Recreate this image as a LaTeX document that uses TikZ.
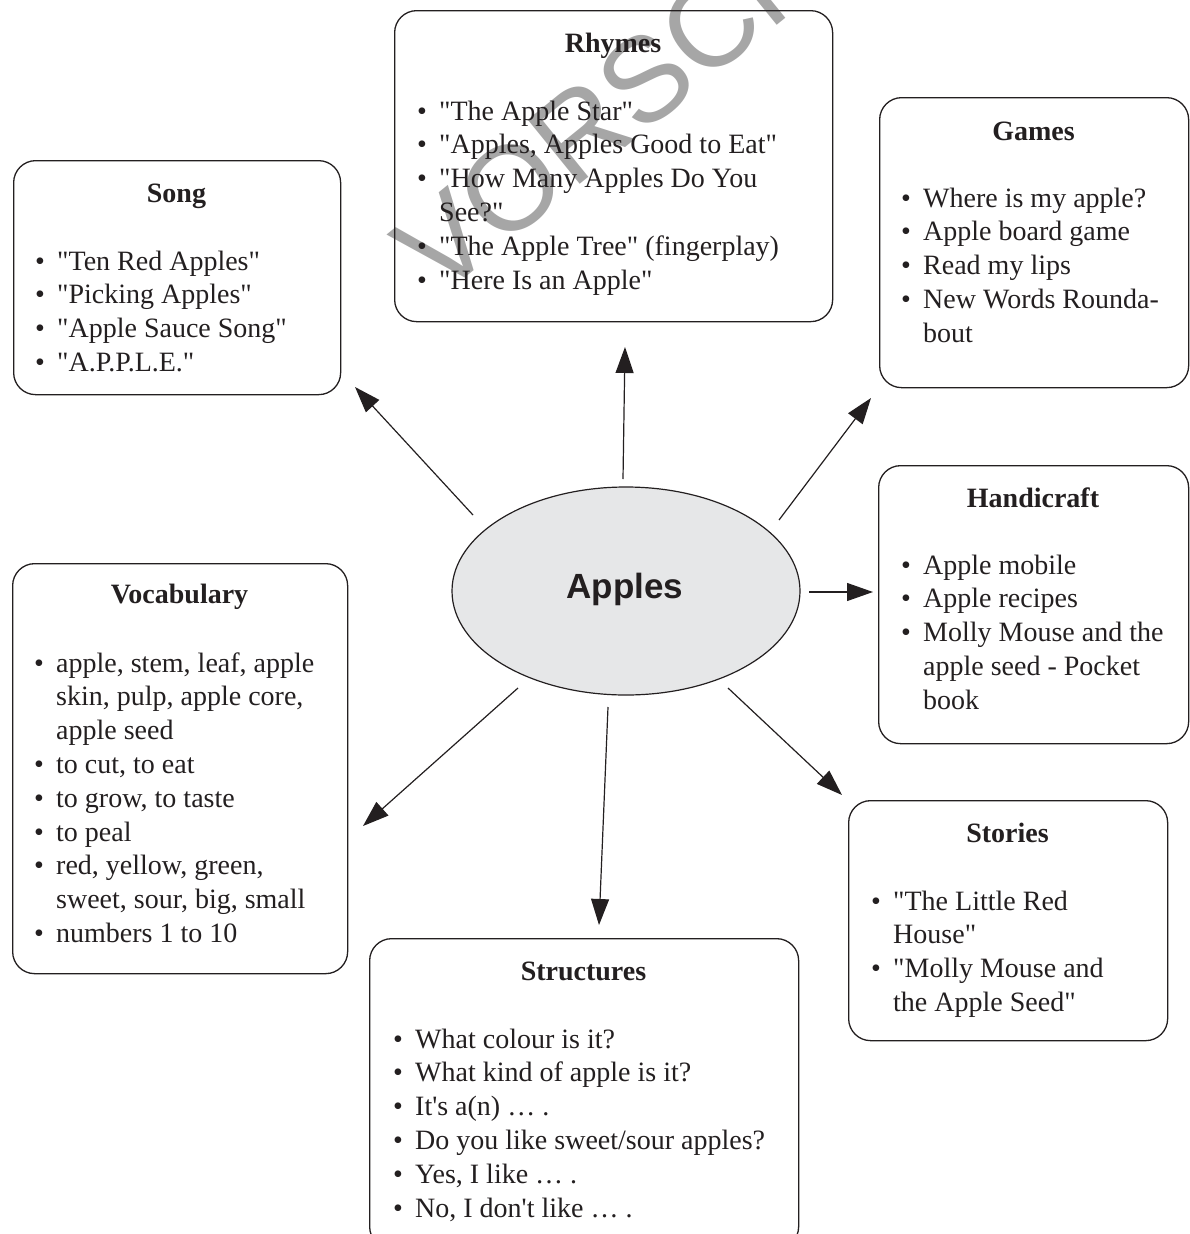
\documentclass[tikz,border=0pt]{standalone}
\usepackage{fontspec}
\setmainfont{Liberation Serif}
\newfontfamily\plainserif{Liberation Serif}
\newfontfamily\headsans{Liberation Sans}
\usetikzlibrary{shapes.geometric,arrows.meta}
\definecolor{txt}{HTML}{231F20}
\definecolor{ovalfill}{HTML}{E6E7E8}
\newcommand\itm[1]{\hbox{\makebox[22pt][l]{•}#1}}
\newcommand\cnt[1]{\hbox{\hspace*{22pt}#1}}
\newcommand\lst[1]{\vtop{#1}}
\tikzset{
  box/.style={draw=txt, line width=1.3pt, rounded corners=22pt, anchor=north west, inner sep=0pt},
  ttl/.style={anchor=base, inner sep=0pt, font=\plainserif\fontsize{28}{34}\selectfont\bfseries, text=txt},
  lstn/.style={anchor=base west, inner sep=0pt, font=\plainserif\fontsize{28}{33.8}\selectfont, text=txt},
  arr/.style={-{Triangle[length=26pt,width=18pt]}, line width=1.2pt, draw=txt},
  oval/.style={ellipse, draw=txt, line width=1.2pt, fill=ovalfill, minimum width=348pt, minimum height=208pt, inner sep=0pt},
}
\begin{document}
\begin{tikzpicture}[x=1pt,y=-1pt]
\useasboundingbox (0,0) rectangle (1189,1234);
% watermark
\node[rotate=39, anchor=base west, inner sep=0pt, font=\headsans\fontsize{120}{120}\selectfont, text=gray!70] (wm) at (438,300) {VORSCHAU};
% boxes
\node[box, minimum width=327pt, minimum height=234pt] (song) at (13,160) {};
\node[box, minimum width=438pt, minimum height=311pt] (rhymes) at (394,10) {};
\node[box, minimum width=309pt, minimum height=290pt] (games) at (879,97) {};
\node[box, minimum width=310pt, minimum height=278pt] (handi) at (878,465) {};
\node[box, minimum width=335pt, minimum height=410pt] (vocab) at (12,563) {};
\node[box, minimum width=319pt, minimum height=240pt] (stories) at (848,800) {};
\node[box, minimum width=429pt, minimum height=310pt] (struct) at (369,938) {};
% titles
\node[ttl] (songT) at (176.5,202) {Song};
\node[ttl] (rhymesT) at (613,52) {Rhymes};
\node[ttl] (gamesT) at (1033.5,140) {Games};
\node[ttl] (handiT) at (1033,507) {Handicraft};
\node[ttl] (vocabT) at (179.5,603) {Vocabulary};
\node[ttl] (storiesT) at (1007.5,842) {Stories};
\node[ttl] (structT) at (583.5,980) {Structures};
% lists
\node[lstn] (songL) at (35,270) {\lst{\itm{"Ten Red Apples"}\itm{"Picking Apples"}\itm{"Apple Sauce Song"}\itm{"A.P.P.L.E."}}};
\node[lstn] (rhymesL) at (417,120) {\lst{\itm{"The Apple Star"}\itm{"Apples, Apples Good to Eat"}\itm{"How Many Apples Do You}\cnt{See?"}\itm{"The Apple Tree" (fingerplay)}\itm{"Here Is an Apple"}}};
\node[lstn] (gamesL) at (901,207) {\lst{\itm{Where is my apple?}\itm{Apple board game}\itm{Read my lips}\itm{New Words Rounda-}\cnt{bout}}};
\node[lstn] (handiL) at (901,574) {\lst{\itm{Apple mobile}\itm{Apple recipes}\itm{Molly Mouse and the}\cnt{apple seed - Pocket}\cnt{book}}};
\node[lstn] (vocabL) at (34,672) {\lst{\itm{apple, stem, leaf, apple}\cnt{skin, pulp, apple core,}\cnt{apple seed}\itm{to cut, to eat}\itm{to grow, to taste}\itm{to peal}\itm{red, yellow, green,}\cnt{sweet, sour, big, small}\itm{numbers 1 to 10}}};
\node[lstn] (storiesL) at (871,910) {\lst{\itm{"The Little Red}\cnt{House"}\itm{"Molly Mouse and}\cnt{the Apple Seed"}}};
\node[lstn] (structL) at (393,1048) {\lst{\itm{What colour is it?}\itm{What kind of apple is it?}\itm{It's a(n) … .}\itm{Do you like sweet/sour apples?}\itm{Yes, I like … .}\itm{No, I don't like … .}}};
% centre
\node[oval] (apples) at (626,591) {};
\node[anchor=base, inner sep=0pt, font=\headsans\bfseries\fontsize{35}{40}\selectfont, text=txt] (applesT) at (625,598) {Apples};
% arrow ends
\coordinate (a1) at (473,515); \coordinate (b1) at (355,387);
\coordinate (a2) at (623,479); \coordinate (b2) at (625,347);
\coordinate (a3) at (779,520); \coordinate (b3) at (871,398);
\coordinate (a4) at (809,592); \coordinate (b4) at (873,592);
\coordinate (a5) at (518,688); \coordinate (b5) at (363,826);
\coordinate (a6) at (608,707); \coordinate (b6) at (599,925);
\coordinate (a7) at (728,688); \coordinate (b7) at (842,795);
\draw[arr] (a1) -- (b1);
\draw[arr] (a2) -- (b2);
\draw[arr] (a3) -- (b3);
\draw[arr] (a4) -- (b4);
\draw[arr] (a5) -- (b5);
\draw[arr] (a6) -- (b6);
\draw[arr] (a7) -- (b7);
\end{tikzpicture}
\end{document}
